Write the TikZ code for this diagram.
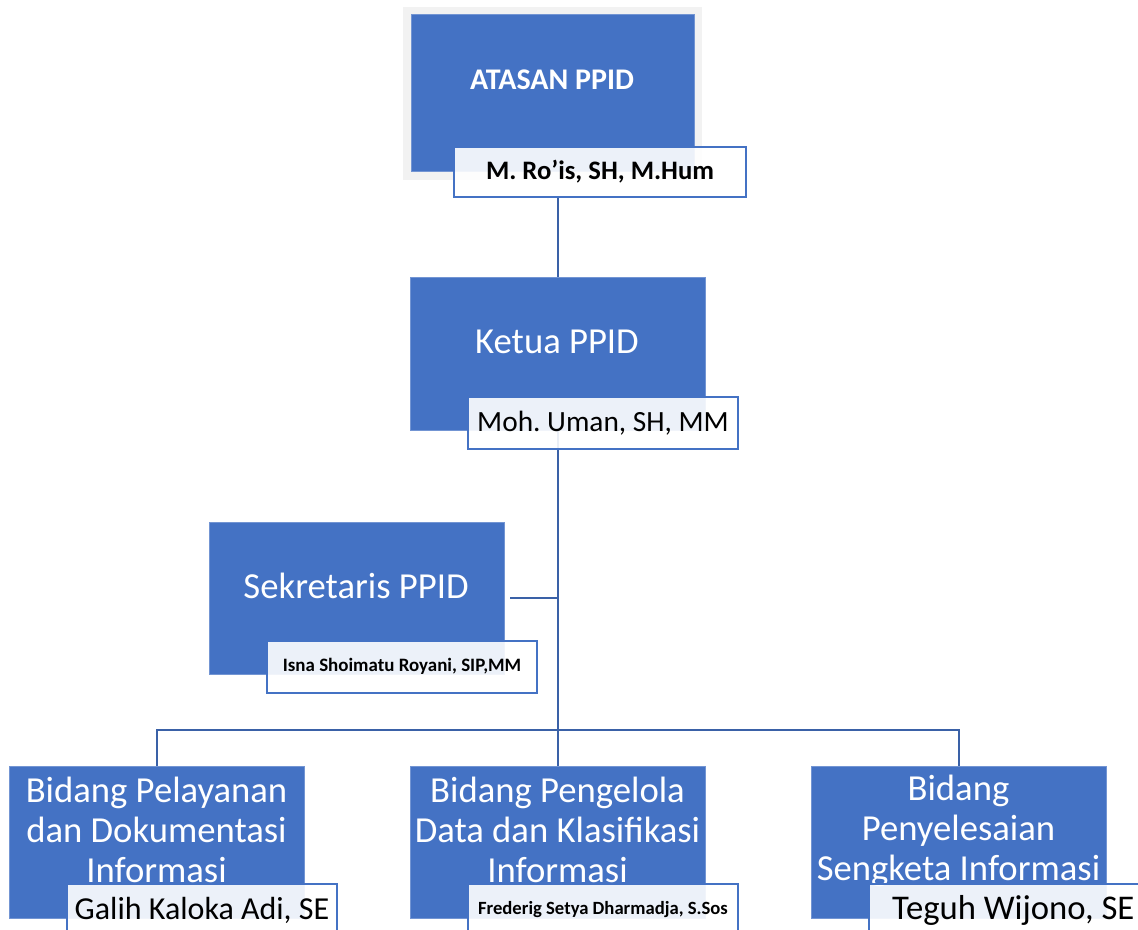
\documentclass[tikz,border=0pt]{standalone}
\usepackage{fontspec}
\setmainfont{Carlito}
\usetikzlibrary{backgrounds}
\definecolor{ppidblue}{HTML}{4472C4}
\definecolor{ppidgray}{HTML}{F2F2F2}
\frenchspacing

\begin{document}
\begin{tikzpicture}[x=0.75pt,y=-0.75pt,
  unit/.style={rectangle,fill=ppidblue,draw=ppidblue!75!white,line width=0.75pt,minimum width=221.25pt,minimum height=114pt,inner sep=0pt},
  title/.style={text=white,font=\fontsize{27.5}{30}\selectfont,align=center,inner sep=0pt},
  person/.style={rectangle,draw=ppidblue,line width=1.5pt,fill=white,fill opacity=0.9,text opacity=1,minimum width=202.5pt,minimum height=39pt,inner sep=0pt,font=\fontsize{21.5}{24}\selectfont},
  link/.style={draw=ppidblue!85!black,line width=1.5pt}]
  \useasboundingbox (0,0) rectangle (1138,930);
  \clip (0,0) rectangle (1138,930);

  % atasan
  \node [fill=ppidgray,minimum width=224.25pt,minimum height=129.75pt,inner sep=0pt] (atasanbg) at (552.5,93.5) {};
  \node [unit,minimum width=212.25pt,minimum height=117.75pt] (atasan) at (552.5,93.5) {};
  \node [title,font=\bfseries\fontsize{22.5}{24}\selectfont] (atasanT) at (552,80) {ATASAN PPID};
  \node [person,minimum width=219pt,minimum height=37.5pt,font=\bfseries\fontsize{20}{24}\selectfont] (rois) at (600,172) {M. Ro’is, SH, M.Hum};

  % ketua
  \node [unit] (ketua) at (557.5,354) {};
  \node [title] (ketuaT) at (557,342) {Ketua PPID};
  \node [person,font=\fontsize{22}{24}\selectfont] (uman) at (603,423) {Moh. Uman, SH, MM};

  % sekretaris
  \node [unit] (sekretaris) at (357,598) {};
  \node [title] (sekretarisT) at (356,586) {Sekretaris PPID};
  \node [person,font=\bfseries\fontsize{14.2}{16}\selectfont] (isna) at (402,666.5) {Isna Shoimatu Royani, SIP,MM};

  % bidang
  \node [unit] (bidang1) at (156.5,842.5) {};
  \node [title] (bidang1T) at (156.5,830) {Bidang Pelayanan\\dan Dokumentasi\\Informasi};
  \node [person,font=\fontsize{24}{26}\selectfont] (galih) at (202,910) {Galih Kaloka Adi, SE};

  \node [unit] (bidang2) at (557.5,842.5) {};
  \node [title] (bidang2T) at (557.5,830) {Bidang Pengelola\\Data dan Klasifikasi\\Informasi};
  \node [person,font=\bfseries\fontsize{14}{16}\selectfont] (frederig) at (603,910) {Frederig Setya Dharmadja, S.Sos};

  \node [unit] (bidang3) at (958.5,842.5) {};
  \node [title] (bidang3T) at (958.5,831) {Bidang\\Penyelesaian\\Sengketa Informasi};
  \node [person,font=\fontsize{26}{28}\selectfont] (teguh) at (1004,910) {\hspace{14pt}Teguh Wijono, SE};

  \coordinate (bus) at (557.5,730);

  \begin{scope}[on background layer]
    \draw [link] (ketua.north) -- (ketua.north |- rois.south);
    \draw [link] (ketua) -- (bidang2.north);
    \draw [link] ([xshift=4pt]sekretaris.east) -- (sekretaris.east -| ketua);
    \draw [link] (bidang1.north) |- (bus) -| (bidang3.north);
  \end{scope}
\end{tikzpicture}
\end{document}
